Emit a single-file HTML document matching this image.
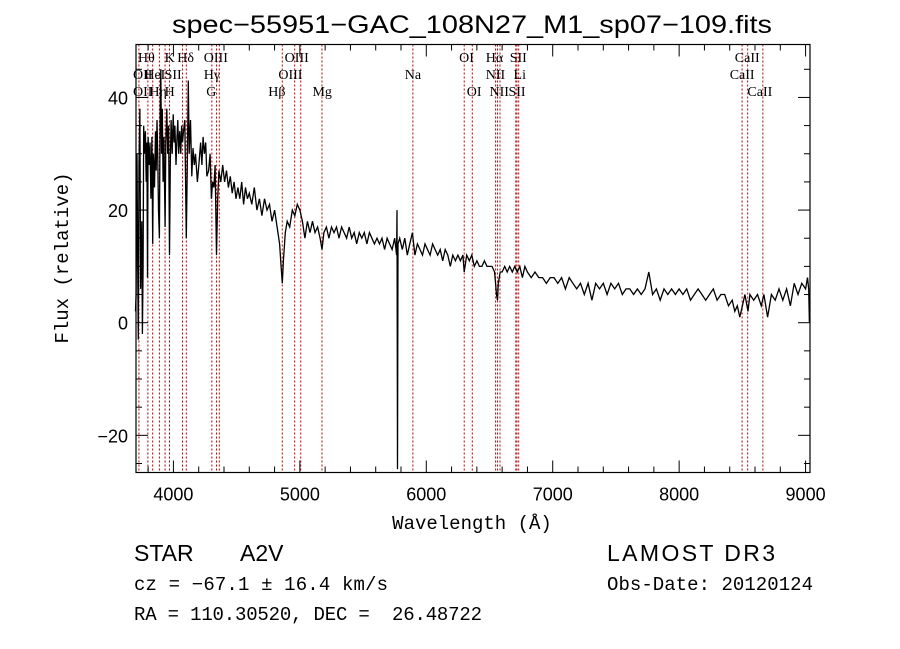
<!DOCTYPE html>
<html><head><meta charset="utf-8"><style>
html,body{margin:0;padding:0;background:#fff;}
svg{display:block;}
</style></head><body>
<svg id="chart" width="900" height="649" xmlns="http://www.w3.org/2000/svg">
<rect width="900" height="649" fill="#fff"/>
<text x="172" y="33" textLength="600" lengthAdjust="spacingAndGlyphs" font-family="Liberation Sans, sans-serif" font-size="25">spec−55951−GAC_108N27_M1_sp07−109.fits</text>
<g id="lines"></g>
<g id="labels" font-family="Liberation Serif, serif" font-size="14"></g>
<path id="spec" fill="none" stroke="#000" stroke-width="1.3"/>
<g id="axes"></g>
<text x="472" y="529" text-anchor="middle" font-family="Liberation Mono, monospace" font-size="19">Wavelength (Å)</text>
<text transform="translate(68,258) rotate(-90)" text-anchor="middle" font-family="Liberation Mono, monospace" font-size="19">Flux (relative)</text>
<g>
<text x="134" y="561" font-family="Liberation Sans, sans-serif" font-size="23">STAR</text>
<text x="240" y="561" font-family="Liberation Sans, sans-serif" font-size="23">A2V</text>
<text x="134" y="590" font-family="Liberation Mono, monospace" font-size="19" textLength="254">cz = −67.1 ± 16.4 km/s</text>
<text x="134" y="620" font-family="Liberation Mono, monospace" font-size="19" textLength="348" xml:space="preserve">RA = 110.30520, DEC =  26.48722</text>
<text x="607" y="561" font-family="Liberation Sans, sans-serif" font-size="23" textLength="168">LAMOST DR3</text>
<text x="607" y="590" font-family="Liberation Mono, monospace" font-size="19" textLength="206">Obs-Date: 20120124</text>
</g>
</svg>
<script>
const wave=[3700,3705,3712,3718,3722,3728,3735,3740,3745,3750,3755,3760,3765,3770,3778,3785,3790,3795,3800,3808,3815,3822,3830,3836,3842,3850,3858,3864,3870,3876,3882,3889,3895,3900,3906,3912,3918,3925,3934,3940,3948,3955,3962,3969,3975,3982,3990,3998,4005,4012,4020,4028,4035,4042,4050,4058,4065,4072,4080,4090,4102,4110,4118,4125,4135,4145,4155,4165,4175,4190,4205,4215,4225,4235,4245,4255,4265,4278,4290,4300,4310,4320,4330,4341,4350,4360,4375,4390,4405,4420,4435,4450,4465,4480,4495,4510,4525,4540,4555,4570,4585,4600,4620,4640,4660,4680,4700,4720,4740,4760,4780,4800,4820,4840,4852,4861,4870,4885,4900,4920,4940,4960,4980,5000,5020,5040,5060,5080,5100,5120,5140,5160,5175,5190,5210,5230,5250,5270,5290,5310,5330,5350,5370,5390,5410,5430,5450,5470,5490,5510,5530,5550,5570,5590,5610,5630,5650,5670,5690,5710,5730,5750,5765,5768,5772,5776,5790,5810,5830,5850,5870,5890,5910,5930,5950,5970,5990,6010,6030,6050,6070,6090,6110,6130,6150,6170,6190,6210,6230,6250,6270,6290,6300,6320,6340,6360,6380,6400,6420,6440,6460,6480,6500,6520,6540,6555,6563,6570,6585,6600,6620,6640,6660,6680,6700,6720,6740,6760,6780,6800,6830,6860,6890,6920,6950,6980,7010,7040,7070,7100,7130,7160,7190,7220,7250,7280,7310,7340,7370,7400,7430,7460,7490,7520,7550,7580,7610,7640,7670,7700,7730,7760,7790,7820,7850,7880,7910,7940,7970,8000,8030,8060,8090,8120,8150,8180,8210,8240,8270,8300,8330,8360,8390,8420,8440,8460,8480,8500,8520,8545,8560,8590,8620,8650,8670,8700,8730,8760,8790,8820,8850,8880,8910,8940,8970,9000,9015,9025,9030];
const flux=[2,5,30,8,-3,28,38,6,12,18,-2,10,35,30,34,25,32,8,33,28,32,22,33,14,30,24,34,27,36,30,20,15,36,45,30,38,25,33,17,32,38,30,35,12,28,36,30,37,32,35,28,33,36,30,34,30,35,32,34,36,15,28,43,30,36,26,31,28,30,25,29,32,28,33,30,32,26,27,30,22,25,24,28,12,22,27,25,28,25,27,24,26,23,25,22,24,22,25,21,24,22,23,21,24,20,22,19,22,20,21,18,20,17,14,10,7,11,16,18,17,20,19,21,20,18,15,18,16,18,16,17,15,13,16,17,15,17,16,17,15,17,16,15,17,15,16,14,16,15,16,14,16,15,14,15,14,15,13,15,14,13,15,12,20,-26,14,15,13,15,12,14,16,12,14,13,12,14,13,12,14,13,12,13,11,13,12,10,12,11,12,11,12,9,12,11,12,10,11,10,10,11,10,10,10,9,5,4,7,9,9,10,9,10,9,10,9,10,8,10,9,8,9,8,8,7,8,8,7,8,6,8,7,6,7,5,7,4,7,6,7,5,7,6,7,5,6,6,5,6,5,6,9,5,6,4,6,5,6,5,6,5,6,4,5,6,5,4,5,6,4,5,5,3,4,2,3,1,3,5,2,5,4,5,3,5,1,5,4,6,4,6,3,7,5,7,6,8,6,0];
const lineWaves=[3727,3798,3836,3889,3934,3969,4072,4102,4304,4341,4363,4861,4959,5007,5175,5894,6300,6364,6548,6563,6583,6708,6717,6731,8498,8542,8662];
const labelTexts=["Hθ","K","Hδ","OIII","OIII","OI","Hα","SII","CaII","OII","HeI","SII","Hγ","OIII","Na","NII","Li","CaII","OII","Hη","H","G","Hβ","Mg","OI","NII","SII","CaII"];
const labelWaves=[3720,3930,4030,4240,4880,6260,6470,6660,8440,3680,3770,3930,4240,4830,5830,6470,6690,8400,3680,3810,3930,4260,4750,5100,6320,6500,6650,8540];
const labelRows=[0,0,0,0,0,0,0,0,0,1,1,1,1,1,1,1,1,1,2,2,2,2,2,2,2,2,2,2];
const xTicks=[4000,5000,6000,7000,8000,9000];
const yTicks=[-20,0,20,40];
const X0=136,X1=810,Y0=44.5,Y1=472.5,WMIN=3704,WMAX=9035,FMIN=-26.6,FMAX=49.4;
function xs(w){return X0+(w-WMIN)/(WMAX-WMIN)*(X1-X0);}
function ys(f){return Y1-(f-FMIN)/(FMAX-FMIN)*(Y1-Y0);}
const NS="http://www.w3.org/2000/svg";
function mk(t,a,p){const e=document.createElementNS(NS,t);for(const k in a)e.setAttribute(k,a[k]);p.appendChild(e);return e;}
const gl=document.getElementById('lines');
lineWaves.forEach(w=>{const l=mk('line',{x1:xs(w),x2:xs(w),y1:Y0,y2:Y1,stroke:'#c00000','stroke-width':1,'stroke-dasharray':'2,2'},gl);

});
const glb=document.getElementById('labels');
labelTexts.forEach((t,i)=>{const e=mk('text',{x:xs(labelWaves[i]),y:62+labelRows[i]*17},glb);e.textContent=t;

});
let d='';wave.forEach((w,i)=>{d+=(i?'L':'M')+xs(w).toFixed(1)+' '+ys(Math.max(FMIN,flux[i])).toFixed(1);});
document.getElementById('spec').setAttribute('d',d);
const ga=document.getElementById('axes');
mk('rect',{x:X0,y:Y0,width:X1-X0,height:Y1-Y0,fill:'none',stroke:'#000','stroke-width':1.2},ga);
for(let w=3800;w<=9000;w+=200){const big=w%1000===0;const x=xs(w);
mk('line',{x1:x,x2:x,y1:Y1,y2:Y1-(big?12:6),stroke:'#000'},ga);
mk('line',{x1:x,x2:x,y1:Y0,y2:Y0+(big?12:6),stroke:'#000'},ga);}
xTicks.forEach(w=>{const t=mk('text',{x:xs(w),y:Y1+28,'text-anchor':'middle','font-family':'Liberation Sans, sans-serif','font-size':18},ga);t.textContent=w;

});
for(let f=-25;f<=45;f+=5){const big=f%20===0;const y=ys(f);
mk('line',{x1:X0,x2:X0+(big?12:6),y1:y,y2:y,stroke:'#000'},ga);
mk('line',{x1:X1,x2:X1-(big?12:6),y1:y,y2:y,stroke:'#000'},ga);}
yTicks.forEach(f=>{const t=mk('text',{x:X0-8,y:ys(f)+7,'text-anchor':'end','font-family':'Liberation Sans, sans-serif','font-size':18},ga);t.textContent=f<0?'−'+(-f):f;

});
</script>
</body></html>
